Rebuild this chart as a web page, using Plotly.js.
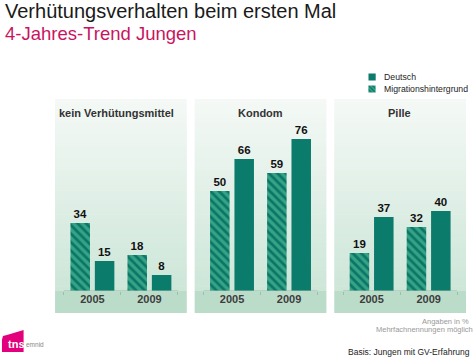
<!DOCTYPE html>
<html>
<head>
<meta charset="utf-8">
<script src="https://cdn.plot.ly/plotly-3.0.1.min.js"></script>
<style>html,body{margin:0;padding:0;background:#fff;overflow:hidden}#chart{width:474px;height:358px}</style>
</head>
<body>
<div id="chart"></div>
<script>
// ---- data ----
const years = ['2005', '2009'];
const panelTitles = ['kein Verhütungsmittel', 'Kondom', 'Pille'];
const seriesNames = ['Deutsch', 'Migrationshintergrund'];
const deutschKein = [15, 8];
const migrationKein = [34, 18];
const deutschKondom = [66, 76];
const migrationKondom = [50, 59];
const deutschPille = [37, 40];
const migrationPille = [19, 32];

const deutschSets = [deutschKein, deutschKondom, deutschPille];
const migrationSets = [migrationKein, migrationKondom, migrationPille];

// ---- layout helpers ----
const W = 474, H = 358;
const px = x => x / W;
const py = y => 1 - y / H;
const FONT = 'Liberation Sans, Arial, sans-serif';
const SOLID = '#0b7b6b';
const panelX = [[56, 190], [198, 332], [340, 474]];
const panelTop = 99, baseY = 291, panelBottom = 313;

const traces = [];
for (let i = 0; i < 3; i++) {
  const ax = i === 0 ? '' : String(i + 1);
  traces.push({
    type: 'bar', x: years, y: migrationSets[i], name: seriesNames[1],
    xaxis: 'x' + ax, yaxis: 'y' + ax,
    legend: 'legend2', showlegend: i === 0, legendgroup: 'mig',
    marker: {color: SOLID, line: {width: 0},
      pattern: {shape: '\\', bgcolor: '#35a386', fgcolor: '#0b7566', size: 6, solidity: 0.45}},
    text: migrationSets[i].map(String), textposition: 'outside', cliponaxis: false,
    textfont: {family: FONT, size: 11.5, color: '#111', weight: 'bold'},
    hoverinfo: 'skip'
  });
  traces.push({
    type: 'bar', x: years, y: deutschSets[i], name: seriesNames[0],
    xaxis: 'x' + ax, yaxis: 'y' + ax,
    legend: 'legend', showlegend: i === 0, legendgroup: 'de',
    marker: {color: SOLID, line: {width: 0}},
    text: deutschSets[i].map(String), textposition: 'outside', cliponaxis: false,
    textfont: {family: FONT, size: 11.5, color: '#111', weight: 'bold'},
    hoverinfo: 'skip'
  });
}

const shapes = [];
const annotations = [];
const layout = {
  width: W, height: H,
  margin: {l: 0, r: 0, t: 0, b: 0},
  paper_bgcolor: '#ffffff', plot_bgcolor: 'rgba(0,0,0,0)',
  barmode: 'group', bargap: 0.145, bargroupgap: 0.2,
  font: {family: FONT, color: '#222'},
  showlegend: true,
  legend: {x: px(350), y: py(77), xanchor: 'left', yanchor: 'middle',
    bgcolor: 'rgba(0,0,0,0)', font: {family: FONT, size: 8.7, color: '#222'}},
  legend2: {x: px(350), y: py(89), xanchor: 'left', yanchor: 'middle',
    bgcolor: 'rgba(0,0,0,0)', font: {family: FONT, size: 8.7, color: '#222'}},
  shapes: shapes, annotations: annotations
};

// gradient panel backgrounds
const topC = [244, 249, 246], botC = [204, 230, 216];
const N = 40;
for (let i = 0; i < 3; i++) {
  const [x0, x1] = panelX[i];
  for (let k = 0; k < N; k++) {
    const t = (k + 0.5) / N;
    const c = topC.map((v, j) => Math.round(v + (botC[j] - v) * t));
    const ya = panelTop + (baseY - panelTop) * k / N;
    const yb = panelTop + (baseY - panelTop) * (k + 1) / N + 0.5;
    shapes.push({type: 'rect', xref: 'paper', yref: 'paper', layer: 'below',
      x0: px(x0), x1: px(x1), y0: py(yb), y1: py(ya),
      line: {width: 0}, fillcolor: `rgb(${c[0]},${c[1]},${c[2]})`});
  }
  shapes.push({type: 'rect', xref: 'paper', yref: 'paper', layer: 'below',
    x0: px(x0), x1: px(x1), y0: py(panelBottom), y1: py(baseY),
    line: {width: 0}, fillcolor: '#bcdcca'});
  const ax = i === 0 ? '' : String(i + 1);
  layout['xaxis' + ax] = {
    domain: [px(x0), px(x1)], range: [-0.655, 1.655], type: 'category',
    anchor: 'y' + ax, fixedrange: true,
    showline: false, showgrid: false, zeroline: false,
    ticks: 'outside', tickson: 'boundaries', ticklen: 3, tickcolor: '#9dbdae', tickwidth: 1,
    tickfont: {family: FONT, size: 11, color: '#3d3d3d', weight: 'bold'}
  };
  layout['yaxis' + ax] = {
    domain: [py(baseY), py(panelTop)], range: [0, 96], anchor: 'x' + ax,
    visible: false, fixedrange: true
  };
  shapes.push({type: 'line', xref: 'x' + ax, yref: 'y' + ax, x0: -0.5, x1: 1.5, y0: 0, y1: 0,
    line: {color: '#9dbdae', width: 1}});
}

// panel titles
const titleX = [118.5, 265, 406];
panelTitles.forEach((t, i) => annotations.push({
  text: t, xref: 'paper', yref: 'paper', x: px(titleX[i]), y: py(113),
  xanchor: 'center', yanchor: 'middle', showarrow: false,
  font: {family: FONT, size: 11, color: '#333', weight: 'bold'}
}));

// titles
annotations.push({text: 'Verhütungsverhalten beim ersten Mal', xref: 'paper', yref: 'paper',
  x: px(3), y: py(11), xanchor: 'left', yanchor: 'middle', showarrow: false,
  font: {family: FONT, size: 20, color: '#1a1a1a'}});
annotations.push({text: '4-Jahres-Trend Jungen', xref: 'paper', yref: 'paper',
  x: px(3), y: py(34), xanchor: 'left', yanchor: 'middle', showarrow: false,
  font: {family: FONT, size: 18.5, color: '#c8155f'}});

// footnotes
annotations.push({text: 'Angaben in %', xref: 'paper', yref: 'paper',
  x: px(427), y: py(321), xanchor: 'left', yanchor: 'middle', showarrow: false,
  font: {family: FONT, size: 7.5, color: '#999'}});
annotations.push({text: 'Mehrfachnennungen möglich', xref: 'paper', yref: 'paper',
  x: px(380), y: py(329), xanchor: 'left', yanchor: 'middle', showarrow: false,
  font: {family: FONT, size: 7.5, color: '#999'}});
annotations.push({text: 'Basis: Jungen mit GV-Erfahrung', xref: 'paper', yref: 'paper',
  x: px(352), y: py(352), xanchor: 'left', yanchor: 'middle', showarrow: false,
  font: {family: FONT, size: 8.5, color: '#222'}});

// logo
const lp = [[2, 352], [2, 340], [3, 336], [7, 335], [24, 330], [24, 352]];
shapes.push({type: 'path', xref: 'paper', yref: 'paper',
  path: 'M' + lp.map(p => px(p[0]) + ',' + py(p[1])).join(' L') + ' Z',
  fillcolor: '#e3007d', line: {width: 0}});
annotations.push({text: 'tns', xref: 'paper', yref: 'paper',
  x: px(6), y: py(344), xanchor: 'left', yanchor: 'middle', showarrow: false,
  font: {family: FONT, size: 11, color: '#ffffff', weight: 'bold'}});
annotations.push({text: 'emnid', xref: 'paper', yref: 'paper',
  x: px(24), y: py(344), xanchor: 'left', yanchor: 'middle', showarrow: false,
  font: {family: FONT, size: 6.5, color: '#888'}});

Plotly.newPlot('chart', traces, layout, {staticPlot: true, displayModeBar: false}).then(gd => {
  // smaller legend swatches, placed closer to their labels
  gd.querySelectorAll('.legendpoints path').forEach(p => {
    p.setAttribute('transform', 'translate(28,0) scale(0.6)');
  });
});
</script>
</body>
</html>
